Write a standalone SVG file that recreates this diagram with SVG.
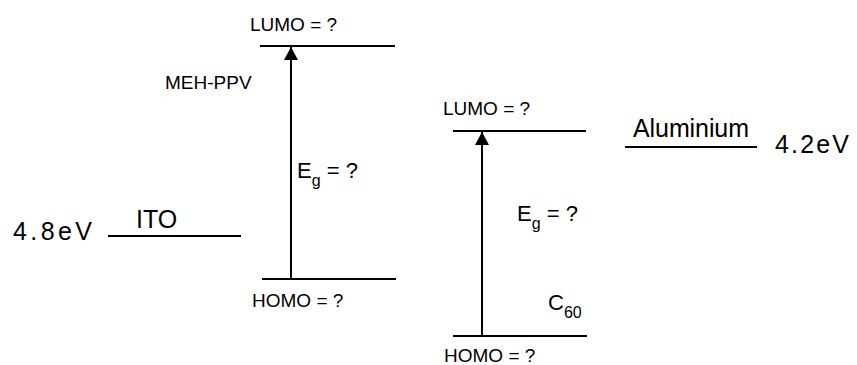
<svg xmlns="http://www.w3.org/2000/svg" width="857" height="365" viewBox="0 0 857 365">
<style>
text{font-family:"Liberation Sans",Arial,sans-serif;fill:#000}
.lvl{stroke:#000;stroke-width:2;fill:none}
.arr{stroke:#000;stroke-width:2;fill:none;marker-end:url(#ah)}
.s{font-size:19px}
.b{font-size:25px}
.e{font-size:22px}
</style>
<defs>
<marker id="ah" markerWidth="6.5" markerHeight="7" refX="6.5" refY="3.5" orient="auto" markerUnits="strokeWidth">
<path d="M0,0 L6.5,3.5 L0,7 Z" fill="#000"/>
</marker>
</defs>
<rect width="857" height="365" fill="#fff"/>
<g id="ito">
<line class="lvl" x1="108" y1="236" x2="241" y2="236"/>
<text class="b" x="136" y="228" font-size="22">ITO</text>
<text class="b" x="13" y="240" textLength="79">4.8eV</text>
</g>
<g id="meh-ppv">
<line class="lvl" x1="260" y1="46" x2="395" y2="46"/>
<line class="lvl" x1="262" y1="279" x2="396" y2="279"/>
<text class="s" x="250" y="31">LUMO = ?</text>
<text class="s" x="252" y="307">HOMO = ?</text>
<text class="s" x="165" y="89">MEH-PPV</text>
<text class="e" x="297" y="178">E<tspan font-size="16" dy="8">g</tspan><tspan dy="-8"> = ?</tspan></text>
</g>
<g id="c60">
<line class="lvl" x1="453" y1="131" x2="586" y2="131"/>
<line class="lvl" x1="453" y1="336" x2="587" y2="336"/>
<text class="s" x="443" y="115">LUMO = ?</text>
<text class="s" x="444" y="362">HOMO = ?</text>
<text class="e" x="517" y="221">E<tspan font-size="16" dy="8">g</tspan><tspan dy="-8"> = ?</tspan></text>
<text class="e" x="548" y="310">C<tspan font-size="16" dy="8">60</tspan></text>
</g>
<g id="aluminium">
<line class="lvl" x1="625" y1="147" x2="757" y2="147"/>
<text class="b" x="633" y="137" font-size="23" textLength="116">Aluminium</text>
<text class="b" x="775" y="153" textLength="74">4.2eV</text>
</g>
<g id="connectors">
<line class="arr" x1="291" y1="279" x2="291" y2="47"/>
<line class="arr" x1="482" y1="336" x2="482" y2="132"/>
</g>
</svg>
